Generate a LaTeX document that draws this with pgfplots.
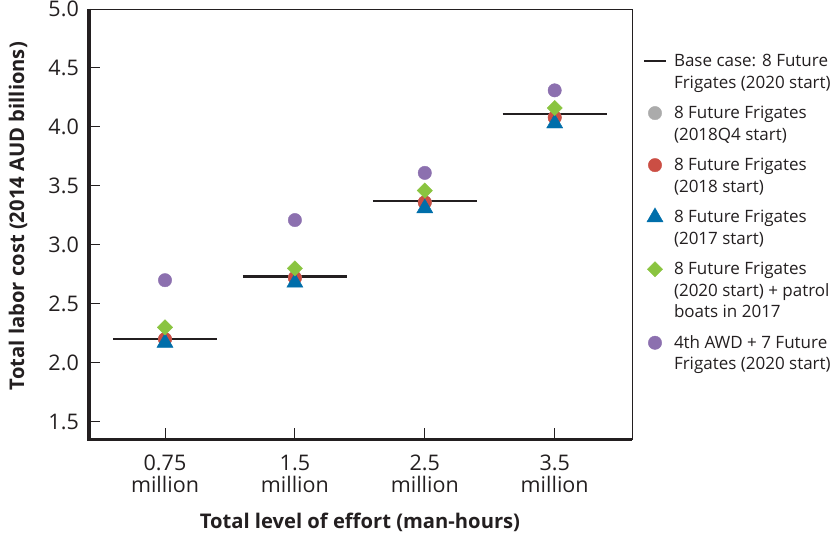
\documentclass[border=0pt]{standalone}
\usepackage{fontspec}
\setmainfont{Open Sans}
\usepackage{pgfplots}
\pgfplotsset{compat=1.18}
\definecolor{ink}{RGB}{35,31,32}
\definecolor{cgray}{RGB}{171,171,171}
\definecolor{cred}{RGB}{203,78,68}
\definecolor{cblue}{RGB}{0,110,170}
\definecolor{cgreen}{RGB}{138,196,64}
\definecolor{cpurple}{RGB}{140,112,175}
\newcommand{\lentry}[1]{\parbox[t]{6cm}{\raggedright\strut #1\strut}}
\pgfplotsset{
  legmark/.style={legend image code/.code={\draw[mark repeat=2,mark phase=2,##1] plot coordinates {(0pt,5.6pt) (11pt,5.6pt) (22pt,5.6pt)};\path[draw=none,fill=none] (11pt,15pt) -- (11pt,-#1);}},
  legline/.style={legend image code/.code={\draw[##1] (0pt,5.6pt) -- (22pt,5.6pt);\path[draw=none,fill=none] (11pt,15pt) -- (11pt,-#1);}},
}
\begin{document}
\begin{tikzpicture}
\useasboundingbox (-89pt,-97.5pt) rectangle (750pt,439.5pt);
\begin{axis}[
  name=ax,
  at={(0,0)}, anchor=south west,
  scale only axis,
  width=543pt, height=430.5pt,
  xmin=-0.585, xmax=3.595,
  ymin=1.349, ymax=5.0,
  axis line style={line width=0.8pt, ink},
  tick pos=left,
  tick align=inside,
  major tick length=11pt,
  tick style={line width=0.9pt, ink},
  xtick={0,1,2,3},
  xticklabels={{0.75\\million},{1.5\\million},{2.5\\million},{3.5\\million}},
  xticklabel style={align=center, inner sep=0pt, anchor=north, yshift=-15pt, font=\fontsize{21.5}{22.5}\selectfont, text=ink},
  ytick={1.5,2.0,2.5,3.0,3.5,4.0,4.5,5.0},
  yticklabel style={inner sep=0pt, anchor=east, xshift=-10pt, font=\fontsize{21.5}{22}\selectfont, text=ink,
    /pgf/number format/.cd, fixed, fixed zerofill, precision=1, assume math mode=true},
  ylabel={Total labor cost (2014 AUD billions)},
  ylabel style={at={(axis description cs:-0.1308,0.519)}, anchor=center, font=\bfseries\fontsize{20.2}{22}\selectfont, text=ink},
  xlabel={Total level of effort (man-hours)},
  xlabel style={at={(axis description cs:0.499,-0.2079)}, anchor=base, font=\bfseries\fontsize{20.2}{22}\selectfont, text=ink},
  unbounded coords=jump,
  legend style={at={(axis description cs:1,1)}, anchor=north west, xshift=10.7pt, yshift=-42.6pt,
    draw=none, fill=none, inner sep=0pt, outer sep=0pt, row sep=9pt, column sep=6.7pt,
    nodes={inner sep=0pt, outer sep=0pt, text=ink},
    font=\fontsize{17}{21.5}\selectfont},
  legend cell align=left,
  legend style={cells={anchor=base west}},
]
\addplot[ink, line width=2.6pt, legline=28pt] coordinates {
(-0.4,2.20) (0.4,2.20) (0.5,nan)
(0.6,2.73) (1.4,2.73) (1.5,nan)
(1.6,3.37) (2.4,3.37) (2.5,nan)
(2.6,4.11) (3.4,4.11)
};
\addlegendentry{\lentry{Base case: 8 Future\\Frigates (2020 start)}}
\addplot[only marks, mark=*, mark size=6.7pt, cgray, mark options={draw=none, fill=cgray}, legmark=28pt] coordinates {
(0,2.20) (1,2.72) (2,3.36) (3,4.08)
};
\addlegendentry{\lentry{8 Future Frigates\\(2018Q4 start)}}
\addplot[only marks, mark=*, mark size=6.7pt, cred, mark options={draw=none, fill=cred}, legmark=28pt] coordinates {
(0,2.20) (1,2.72) (2,3.36) (3,4.08)
};
\addlegendentry{\lentry{8 Future Frigates\\(2018 start)}}
\addplot[only marks, mark=triangle*, mark size=9.3pt, cblue, mark options={draw=none, fill=cblue}, legmark=28pt] coordinates {
(0,2.17) (1,2.68) (2,3.31) (3,4.03)
};
\addlegendentry{\lentry{8 Future Frigates\\(2017 start)}}
\addplot[only marks, mark=square*, mark size=5.4pt, cgreen, mark options={draw=none, fill=cgreen, rotate=45}, legmark=49.5pt] coordinates {
(0,2.30) (1,2.80) (2,3.46) (3,4.16)
};
\addlegendentry{\lentry{8 Future Frigates\\(2020 start) + patrol\\boats in 2017}}
\addplot[only marks, mark=*, mark size=6.7pt, cpurple, mark options={draw=none, fill=cpurple}, legmark=28pt] coordinates {
(0,2.70) (1,3.21) (2,3.61) (3,4.31)
};
\addlegendentry{\lentry{4th AWD + 7 Future\\Frigates (2020 start)}}
\end{axis}
\draw[line width=3.4pt, ink] (ax.north west) -- (ax.south west) -- (ax.south east);
\end{tikzpicture}
\end{document}
